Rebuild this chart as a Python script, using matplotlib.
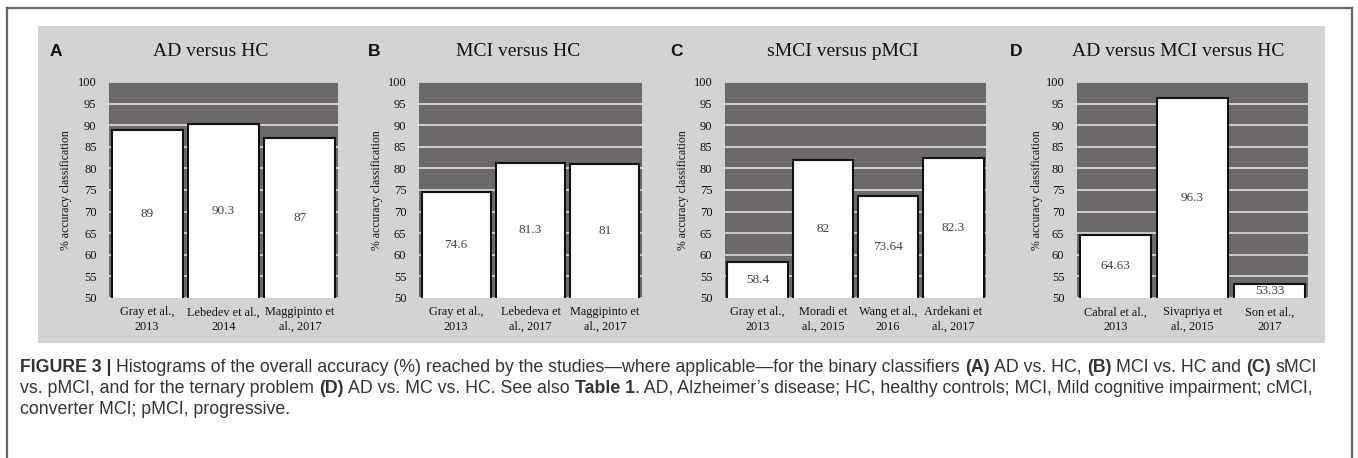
import matplotlib
matplotlib.use("Agg")
import matplotlib.pyplot as plt
from matplotlib.patches import Rectangle
from matplotlib.lines import Line2D

# ---------------- data ----------------
titles = ["AD versus HC", "MCI versus HC", "sMCI versus pMCI", "AD versus MCI versus HC"]
letters = ["A", "B", "C", "D"]

cats_a = ["Gray et al.,\n2013", "Lebedev et al.,\n2014", "Maggipinto et\nal., 2017"]
vals_a = [89, 90.3, 87]
lbls_a = ["89", "90.3", "87"]

cats_b = ["Gray et al.,\n2013", "Lebedeva et\nal., 2017", "Maggipinto et\nal., 2017"]
vals_b = [74.6, 81.3, 81]
lbls_b = ["74.6", "81.3", "81"]

cats_c = ["Gray et al.,\n2013", "Moradi et\nal., 2015", "Wang et al.,\n2016", "Ardekani et\nal., 2017"]
vals_c = [58.4, 82, 73.64, 82.3]
lbls_c = ["58.4", "82", "73.64", "82.3"]

cats_d = ["Cabral et al.,\n2013", "Sivapriya et\nal., 2015", "Son et al.,\n2017"]
vals_d = [64.63, 96.3, 53.33]
lbls_d = ["64.63", "96.3", "53.33"]

yticks = [50, 55, 60, 65, 70, 75, 80, 85, 90, 95, 100]
ylabel = "% accuracy classification"

caption_lines = [
    [("FIGURE 3 |", True, False),
     ("Histograms of the overall accuracy (%) reached by the studies\u2014where applicable\u2014for the binary classifiers", False, True),
     ("(A)", True, True), ("AD vs. HC,", False, True), ("(B)", True, True),
     ("MCI vs. HC and", False, True), ("(C)", True, True), ("sMCI", False, True)],
    [("vs. pMCI, and for the ternary problem", False, False), ("(D)", True, True),
     ("AD vs. MC vs. HC. See also", False, True), ("Table 1", True, True),
     (". AD, Alzheimer\u2019s disease; HC, healthy controls; MCI, Mild cognitive impairment; cMCI,", False, False)],
    [("converter MCI; pMCI, progressive.", False, False)],
]

panels = [(cats_a, vals_a, lbls_a), (cats_b, vals_b, lbls_b),
          (cats_c, vals_c, lbls_c), (cats_d, vals_d, lbls_d)]

# ---------------- layout (pixels) ----------------
W, H = 1358, 458
fig = plt.figure(figsize=(W / 100, H / 100), dpi=100)
fig.patch.set_facecolor("white")

def fx(px):
    return px / W

def fy(py):
    return 1 - py / H

SERIF = ["Liberation Serif", "DejaVu Serif"]
SANS = ["Liberation Sans", "DejaVu Sans"]

# outer frame
frame_col = "#666666"
fig.add_artist(Line2D([fx(7), fx(7)], [fy(8), 0], transform=fig.transFigure, color=frame_col, lw=1.6))
fig.add_artist(Line2D([fx(1352), fx(1352)], [fy(8), 0], transform=fig.transFigure, color=frame_col, lw=1.6))
fig.add_artist(Line2D([fx(7), fx(1352)], [fy(8), fy(8)], transform=fig.transFigure, color=frame_col, lw=1.6))

# grey panel background
bg_l, bg_t, bg_r, bg_b = 38, 26, 1325, 343
fig.add_artist(Rectangle((fx(bg_l), fy(bg_b)), fx(bg_r - bg_l), (bg_b - bg_t) / H,
                         transform=fig.transFigure, facecolor="#d3d3d3", edgecolor="none", zorder=0))

ax_lr = [(109, 338), (419, 642), (725, 986), (1077, 1308)]
ax_top, ax_bot = 82, 298
title_x = [211, 518, 843, 1178]
letter_x = [50, 368, 670, 1010]
ylab_x = [66, 377, 683, 1037]

plot_bg = "#6e6969"
grid_col = "#cdcdcd"

for i, (cats, vals, lbls) in enumerate(panels):
    l, r = ax_lr[i]
    ax = fig.add_axes([fx(l), fy(ax_bot), fx(r - l), (ax_bot - ax_top) / H])
    ax.set_facecolor(plot_bg)
    x = list(range(len(cats)))
    ax.bar(x, vals, width=0.93, bottom=0, color="white", edgecolor="#111111", linewidth=1.5, zorder=3)
    ax.set_ylim(50, 100)
    ax.set_xlim(-0.5, len(cats) - 0.5)
    ax.set_yticks(yticks)
    ax.set_yticklabels([str(t) for t in yticks], family=SERIF, fontsize=9, color="#111111")
    ax.set_xticks(x)
    ax.set_xticklabels(cats, family=SERIF, fontsize=8.8, color="#111111", linespacing=1.25)
    ax.tick_params(axis="both", length=0, pad=9)
    ax.tick_params(axis="x", pad=6)
    ax.yaxis.grid(True, color=grid_col, lw=1.4, zorder=1)
    ax.set_axisbelow(True)
    for s in ax.spines.values():
        s.set_visible(False)
    for xi, v, t in zip(x, vals, lbls):
        ax.text(xi, (50 + v) / 2, t, ha="center", va="center", family=SERIF,
                fontsize=9.5, color="#444444", zorder=4)
    fig.text(fx(ylab_x[i]), fy((ax_top + ax_bot) / 2), ylabel, rotation=90, ha="center", va="center",
             family=SERIF, fontsize=8.5, color="#111111")
    fig.text(fx(title_x[i]), fy(52), titles[i], ha="center", va="center", family=SERIF,
             fontsize=14, color="#111111")
    fig.text(fx(letter_x[i]), fy(52), letters[i], ha="left", va="center", family=SANS,
             fontsize=12.5, fontweight="bold", color="#111111")

# ---------------- caption (rich text) ----------------
renderer = fig.canvas.get_renderer()
cap_col = "#333333"

def text_w(s, bold, size):
    t = fig.text(0, 0, s, family=SANS, fontsize=size, fontweight="bold" if bold else "normal")
    w = t.get_window_extent(renderer).width
    t.remove()
    return w

def line_w(line, size):
    sp = text_w("x x", False, size) - text_w("xx", False, size)
    return sum(text_w(s, b, size) + (sp if flag else 0) for s, b, flag in line)

# fit first caption line to span the reference width (x 20 -> 1322 px)
base = 10.0
cap_size = base * (1322 - 20) / line_w(caption_lines[0], base)
space_w = text_w("x x", False, cap_size) - text_w("xx", False, cap_size)

cap_base = [372, 393, 414]
for line, yy in zip(caption_lines, cap_base):
    xpx = 20
    for s, bold, sp in line:
        if sp:
            xpx += space_w
        t = fig.text(fx(xpx), fy(yy), s, ha="left", va="baseline", family=SANS,
                     fontsize=cap_size, fontweight="bold" if bold else "normal", color=cap_col)
        xpx += t.get_window_extent(renderer).width

fig.savefig("out.png", dpi=100, facecolor="white")
